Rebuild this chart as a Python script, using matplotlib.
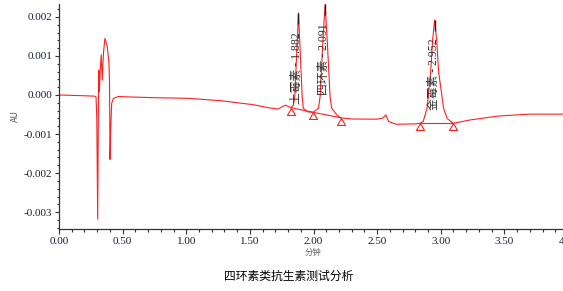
import numpy as np
import matplotlib.pyplot as plt
from matplotlib.ticker import MultipleLocator, FormatStrFormatter

plt.rcParams['font.family'] = ['Liberation Serif', 'Noto Sans CJK SC']
plt.rcParams['axes.unicode_minus'] = False

# Chromatogram trace (minutes, AU)
time = [0.00, 0.10, 0.20, 0.28, 0.291, 0.297, 0.304, 0.309, 0.312, 0.317,
        0.325, 0.332, 0.340, 0.350, 0.361, 0.379, 0.393, 0.397, 0.401, 0.406,
        0.414, 0.427, 0.466, 0.55, 0.75, 1.01, 1.27, 1.53, 1.65, 1.72,
        1.78, 1.822, 1.842, 1.853, 1.869, 1.882, 1.895, 1.911, 1.920, 1.950,
        1.998, 2.039, 2.052, 2.073, 2.091, 2.109, 2.130, 2.143, 2.183, 2.213,
        2.30, 2.50, 2.545, 2.569, 2.590, 2.65, 2.80, 2.836, 2.862, 2.892,
        2.921, 2.936, 2.952, 2.968, 2.983, 3.022, 3.05, 3.097, 3.23, 3.45,
        3.70, 3.97]
au = [0.0, -0.00001, -0.00002, -0.00003, -0.00005, -0.0006, -0.00318, -0.0006, 0.00064, 0.00008,
      0.0007, 0.00103, 0.00038, 0.0011, 0.00145, 0.00125, 0.0008, 0.00030, -0.00165, -0.0009,
      -0.00022, -0.00009, -0.00004, -0.00005, -0.00007, -0.000085, -0.000146, -0.00025, -0.00033, -0.00036,
      -0.00026, -0.000326, -0.00026, -0.00004, 0.00115, 0.0021, 0.00115, -0.00004, -0.00034, -0.00043,
      -0.000444, -0.00034, -0.00004, 0.00133, 0.00232, 0.00133, -0.00004, -0.00034, -0.00051, -0.000582,
      -0.000615, -0.00062, -0.00059, -0.00051, -0.00068, -0.00075, -0.00074, -0.000726, -0.00068, -0.00034,
      0.0006, 0.0014, 0.00192, 0.0014, 0.0006, -0.00034, -0.0006, -0.000726, -0.00064, -0.00054,
      -0.00049, -0.00049]

# peaks: name, retention time, apex height
peak_names = ['土霉素', '四环素', '金霉素']
peak_rt = [1.882, 2.091, 2.952]
peak_top = [0.0021, 0.00232, 0.00192]

# integration baseline points (triangles)
base_t = [1.822, 1.998, 2.213, 2.836, 3.097]
base_v = [-0.000326, -0.000444, -0.000582, -0.000726, -0.000726]

fig = plt.figure(figsize=(5.63, 2.91), dpi=100)
ax = fig.add_axes([59 / 563, 1 - 229.3 / 291, 509 / 563, 225.3 / 291])

ax.plot(time, au, color='#ff2020', lw=0.8)

# baseline segments
ax.plot(base_t[:3], base_v[:3], color='#ff2020', lw=0.8)
ax.plot(base_t[3:], base_v[3:], color='#ff2020', lw=0.8)

# open triangles hanging below the baseline points
tri = [(0, 0), (-0.58, -1), (0.58, -1), (0, 0)]
ax.plot(base_t, base_v, ls='none', marker=tri, ms=10, mfc='none',
        mec='#ff2020', mew=0.8)

# apex marks and peak labels
for name, rt, top in zip(peak_names, peak_rt, peak_top):
    ax.vlines(rt, top - 0.00027, top, color='#202020', lw=1.0)
    ax.text(rt - 0.008, top - 0.0014, f'{name} - {rt:.3f}', rotation=90,
            ha='center', va='center', fontsize=8.5, color='#303030')

ax.set_xlim(0, 4.0)
ax.set_ylim(-0.00344, 0.00233)

ax.xaxis.set_major_locator(MultipleLocator(0.5))
ax.xaxis.set_minor_locator(MultipleLocator(0.1))
ax.yaxis.set_major_locator(MultipleLocator(0.001))
ax.yaxis.set_minor_locator(MultipleLocator(0.0002))
ax.xaxis.set_major_formatter(FormatStrFormatter('%.2f'))
ax.yaxis.set_major_formatter(FormatStrFormatter('%.3f'))

for s in ['top', 'right']:
    ax.spines[s].set_visible(False)
for s in ['left', 'bottom']:
    ax.spines[s].set_color('#333333')
    ax.spines[s].set_linewidth(0.9)

ax.tick_params(axis='x', which='major', length=3.5, width=0.8, pad=2,
               labelsize=8, colors='#333333', labelcolor='#1a2035')
ax.tick_params(axis='x', which='minor', length=2.5, width=0.8, colors='#333333')
ax.tick_params(axis='y', which='major', length=3, width=0.8, pad=2,
               labelsize=8, colors='#333333', labelcolor='#1a2035')
ax.tick_params(axis='y', which='minor', length=1.5, width=0.8, colors='#333333')

fig.text(15.5 / 563, 1 - 116 / 291, 'AU', rotation=90, ha='center', va='center',
         fontsize=6.5, color='#555555', family=['Noto Sans CJK SC'])
fig.text(313 / 563, 1 - 252 / 291, '分钟', ha='center', va='center',
         fontsize=6, color='#666666', family=['Noto Sans CJK SC'])
fig.text(289 / 563, 1 - 276 / 291, '四环素类抗生素测试分析', ha='center', va='center',
         fontsize=8.5, color='black', family=['Noto Sans CJK SC'])

fig.savefig('out.png', dpi=100)
